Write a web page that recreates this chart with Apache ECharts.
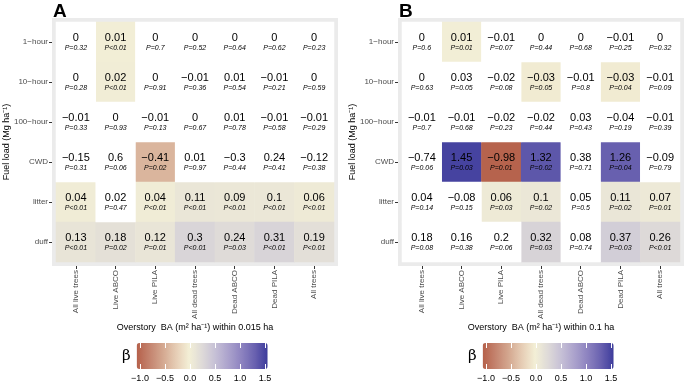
<!DOCTYPE html>
<html>
<head>
<meta charset="utf-8">
<script src="https://cdn.jsdelivr.net/npm/echarts@6/dist/echarts.min.js"></script>
<style>
  html, body { margin: 0; padding: 0; background: #fff; }
  #chart { width: 685px; height: 383px; }
</style>
</head>
<body>
<div id="chart"></div>
<script>
const fuels = ['1\u2212hour', '10\u2212hour', '100\u2212hour', 'CWD', 'litter', 'duff'];
const groups = ['All live trees', 'Live ABCO', 'Live PILA', 'All dead trees', 'Dead ABCO', 'Dead PILA', 'All trees'];
const legendTicks = [-1, -0.5, 0, 0.5, 1, 1.5];

// panel A: 0.015 ha
const betaA = [
  [0, 0.01, 0, 0, 0, 0, 0],
  [0, 0.02, 0, -0.01, 0.01, -0.01, 0],
  [-0.01, 0, -0.01, 0, 0.01, -0.01, -0.01],
  [-0.15, 0.6, -0.41, 0.01, -0.3, 0.24, -0.12],
  [0.04, 0.02, 0.04, 0.11, 0.09, 0.1, 0.06],
  [0.13, 0.18, 0.12, 0.3, 0.24, 0.31, 0.19]
];
const pA = [
  ['0.32', '<0.01', '0.7', '0.52', '0.64', '0.62', '0.23'],
  ['0.28', '<0.01', '0.91', '0.36', '0.54', '0.21', '0.59'],
  ['0.33', '0.93', '0.13', '0.67', '0.78', '0.58', '0.29'],
  ['0.31', '0.06', '0.02', '0.97', '0.44', '0.41', '0.38'],
  ['<0.01', '0.47', '<0.01', '<0.01', '<0.01', '<0.01', '<0.01'],
  ['<0.01', '0.02', '0.01', '<0.01', '0.03', '<0.01', '<0.01']
];
const sigA = [
  [0, 1, 0, 0, 0, 0, 0],
  [0, 1, 0, 0, 0, 0, 0],
  [0, 0, 0, 0, 0, 0, 0],
  [0, 0, 1, 0, 0, 0, 0],
  [1, 0, 1, 1, 1, 1, 1],
  [1, 1, 1, 1, 1, 1, 1]
];

// panel B: 0.1 ha
const betaB = [
  [0, 0.01, -0.01, 0, 0, -0.01, 0],
  [0, 0.03, -0.02, -0.03, -0.01, -0.03, -0.01],
  [-0.01, -0.01, -0.02, -0.02, 0.03, -0.04, -0.01],
  [-0.74, 1.45, -0.98, 1.32, 0.38, 1.26, -0.09],
  [0.04, -0.08, 0.06, 0.1, 0.05, 0.11, 0.07],
  [0.18, 0.16, 0.2, 0.32, 0.08, 0.37, 0.26]
];
const pB = [
  ['0.6', '0.01', '0.07', '0.44', '0.68', '0.25', '0.32'],
  ['0.63', '0.05', '0.08', '0.05', '0.8', '0.04', '0.09'],
  ['0.7', '0.68', '0.23', '0.44', '0.43', '0.19', '0.39'],
  ['0.06', '0.03', '0.01', '0.02', '0.71', '0.04', '0.79'],
  ['0.14', '0.15', '0.03', '0.02', '0.5', '0.02', '0.01'],
  ['0.08', '0.38', '0.06', '0.03', '0.74', '0.03', '<0.01']
];
const sigB = [
  [0, 1, 0, 0, 0, 0, 0],
  [0, 0, 0, 1, 0, 1, 0],
  [0, 0, 0, 0, 0, 0, 0],
  [0, 1, 1, 1, 0, 1, 0],
  [0, 0, 1, 1, 0, 1, 1],
  [0, 0, 0, 1, 0, 1, 1]
];

const palette = ['#b5604a', '#c4846f', '#d4a890', '#e6cdb5', '#f3efd6', '#dedad8',
  '#c6c0d6', '#aba2cc', '#8d83c0', '#6a62b0', '#3d3b9c'];

const FONT = '"Liberation Sans", Arial, sans-serif';
const minus = s => String(s).replace('-', '\u2212');

function cells(beta, p, sig, want) {
  const out = [];
  beta.forEach((row, r) => row.forEach((v, c) => {
    if (sig[r][c] === want) out.push([c, r, v, p[r][c]]);
  }));
  return out;
}

const cellLabel = {
  show: true,
  formatter: d => {
    const pv = d.data[3];
    const ptxt = pv.charAt(0) === '<' ? 'P' + pv : 'P=' + pv;
    return '{v|' + minus(d.data[2]) + '}\n{p|' + ptxt + '}';
  },
  rich: {
    v: { fontSize: 11, color: '#000', fontFamily: FONT, lineHeight: 12 },
    p: { fontSize: 7, color: '#000', fontStyle: 'italic', fontFamily: FONT, lineHeight: 9 }
  }
};

function heat(idx, data, white) {
  return {
    type: 'heatmap',
    xAxisIndex: idx, yAxisIndex: idx,
    data: data,
    itemStyle: white ? { color: '#ffffff' } : {},
    label: cellLabel,
    emphasis: { disabled: true },
    z: 3
  };
}

const panels = [
  { left: 56, letter: 'A', ha: '0.015', beta: betaA, p: pA, sig: sigA, barLeft: 137 },
  { left: 402, letter: 'B', ha: '0.1', beta: betaB, p: pB, sig: sigB, barLeft: 483 }
];
const tileW = 278, tileTop = 22, tileH = 240, pad = 4;
const barTop = 343, barH = 26, barW = 131;

const grid = [], xAxis = [], yAxis = [], series = [], visualMap = [], title = [];

panels.forEach((pn, i) => {
  // inner tile grid (index i)
  grid.push({ left: pn.left, top: tileTop, width: tileW, height: tileH, show: true,
    backgroundColor: '#ffffff', borderWidth: 0, z: 2 });
  xAxis.push({
    type: 'category', gridIndex: i, data: groups, offset: pad,
    axisLine: { show: false },
    axisTick: { show: true, alignWithLabel: true, length: 3, lineStyle: { color: '#333' } },
    axisLabel: { rotate: 90, fontSize: 8, color: '#4d4d4d', fontFamily: FONT, margin: 4 },
    splitLine: { show: false },
    name: 'Overstory  BA (m\u00b2 ha\u207b\u00b9) within ' + pn.ha + ' ha',
    nameLocation: 'middle', nameGap: 57, nameMoveOverlap: false,
    nameTextStyle: { fontSize: 9, color: '#000', fontFamily: FONT }
  });
  yAxis.push({
    type: 'category', gridIndex: i, data: fuels, inverse: true, offset: pad,
    axisLine: { show: false },
    axisTick: { show: true, alignWithLabel: true, length: 3, lineStyle: { color: '#333' } },
    axisLabel: { fontSize: 8, color: '#4d4d4d', fontFamily: FONT, margin: 4 },
    splitLine: { show: false },
    name: 'Fuel load (Mg ha\u207b\u00b9)', nameLocation: 'middle', nameGap: 41, nameMoveOverlap: false,
    nameTextStyle: { fontSize: 9, color: '#000', fontFamily: FONT }
  });
  series.push(heat(i, cells(pn.beta, pn.p, pn.sig, 1), false));
  series.push(heat(i, cells(pn.beta, pn.p, pn.sig, 0), true));
  visualMap.push({
    type: 'continuous', min: -1, max: 1.5, seriesIndex: i * 2, dimension: 2,
    calculable: false, orient: 'horizontal',
    left: pn.barLeft - 30, top: barTop - 15, itemWidth: barH, itemHeight: barW,
    text: ['', '\u03b2'], textGap: 6,
    textStyle: { fontSize: 15, color: '#000', fontFamily: '"DejaVu Serif", serif' },
    inRange: { color: palette }
  });
  title.push({ text: pn.letter, left: pn.left - 8, top: -3,
    textStyle: { fontSize: 19, fontWeight: 'bold', color: '#000', fontFamily: FONT } });
});

// gray panel backgrounds (index 2,3)
panels.forEach(pn => {
  const g = grid.length;
  grid.push({ left: pn.left - pad, top: tileTop - pad, width: tileW + 2 * pad, height: tileH + 2 * pad,
    show: true, backgroundColor: '#ebebeb', borderWidth: 0, z: 0 });
  xAxis.push({ type: 'value', gridIndex: g, show: false });
  yAxis.push({ type: 'value', gridIndex: g, show: false });
});

// colour bar tick axes (index 4,5)
panels.forEach(pn => {
  const g = grid.length;
  grid.push({ left: pn.barLeft + 3, top: barTop, width: barW - 6, height: barH, show: false });
  xAxis.push({
    type: 'value', gridIndex: g, min: legendTicks[0], max: legendTicks[legendTicks.length - 1], interval: 0.5,
    position: 'bottom', z: 10,
    axisLine: { show: false }, splitLine: { show: false },
    axisTick: { show: true, inside: true, length: 5, lineStyle: { color: '#fff', width: 1 } },
    axisLabel: { fontSize: 9, color: '#000', fontFamily: FONT, margin: 5,
      formatter: v => minus(v.toFixed(1)) }
  });
  yAxis.push({ type: 'value', gridIndex: g, show: false });
  xAxis.push({
    type: 'value', gridIndex: g, min: legendTicks[0], max: legendTicks[legendTicks.length - 1], interval: 0.5,
    position: 'top', z: 10,
    axisLine: { show: false }, splitLine: { show: false }, axisLabel: { show: false },
    axisTick: { show: true, inside: true, length: 5, lineStyle: { color: '#fff', width: 1 } }
  });
});

const chart = echarts.init(document.getElementById('chart'), null, { renderer: 'canvas' });
chart.setOption({
  backgroundColor: '#ffffff',
  animation: false,
  title: title,
  grid: grid,
  xAxis: xAxis,
  yAxis: yAxis,
  visualMap: visualMap,
  series: series
});
</script>
</body>
</html>
